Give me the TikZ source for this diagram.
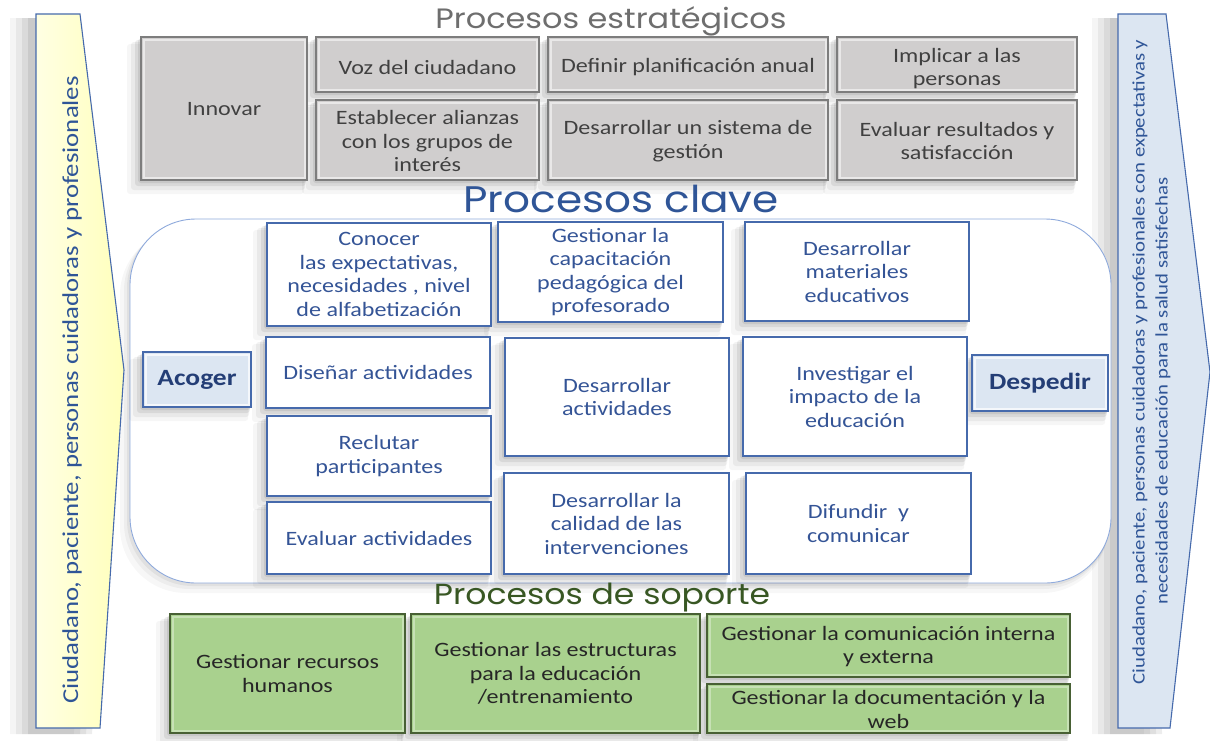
\documentclass[tikz,border=0pt]{standalone}
\usepackage{fontspec}
\setmainfont{Carlito}[FakeStretch=1.18]
\newfontfamily\handfont{Poppins}[FakeStretch=1.14]
\usetikzlibrary{calc}
\definecolor{grayfill}{RGB}{208,206,206}
\definecolor{grayline}{RGB}{125,125,125}
\definecolor{graytext}{RGB}{64,64,64}
\definecolor{keyline}{RGB}{70,106,172}
\definecolor{keytext}{RGB}{52,84,150}
\definecolor{darkblue}{RGB}{36,62,118}
\definecolor{paleblue}{RGB}{220,230,242}
\definecolor{greenfill}{RGB}{169,209,142}
\definecolor{greenline}{RGB}{72,96,52}
\definecolor{palyellow}{RGB}{255,255,208}
\definecolor{regionline}{RGB}{143,170,220}
\definecolor{titlegray}{RGB}{110,110,110}
\definecolor{titleblue}{RGB}{47,85,151}
\definecolor{titlegreen}{RGB}{56,87,35}
\pgfdeclarelayer{back}
\pgfdeclarelayer{shad}
\pgfsetlayers{back,shad,main}
\newcommand\bxshadow[4]{%
  \begin{pgfonlayer}{shad}
  \foreach \d/\o in {14/.035,10/.05,6/.07,3/.08}{%
    \fill[black,opacity=\o,rounded corners=3] (#1-\d,#2+\d*0.5) rectangle (#3-\d*0.2,#4+\d);}
  \end{pgfonlayer}}
% \boxnode[text shift]{name}{kind}{x1}{y1}{x2}{y2}{text}
\newcommand\boxnode[8][0]{%
  \pgfmathsetmacro\bxcx{(#4+#6)/2}%
  \pgfmathsetmacro\bxcy{(#5+#7)/2+#1}%
  \pgfmathsetmacro\bxw{#6-#4}%
  \pgfmathsetmacro\bxh{#7-#5}%
  \bxshadow{#4}{#5}{#6}{#7}%
  \node[#3box, minimum width=\bxw pt, minimum height=\bxh pt] (#2) at ({(#4+#6)/2},{(#5+#7)/2}) {};
  \node[#3text] (#2-t) at (\bxcx,\bxcy) {#8};}
\begin{document}
\begin{tikzpicture}[x=1pt,y=-1pt,
  basebox/.style={draw, inner sep=0pt, outer sep=0pt},
  basetext/.style={align=center, inner sep=0pt, font=\fontsize{20.4}{23.5}\selectfont},
  bevel/.style={path picture={\draw[white,opacity=#1,line width=2pt]
      ([shift={(2.5pt,-2.5pt)}]path picture bounding box.north west) rectangle
      ([shift={(-2.5pt,2.5pt)}]path picture bounding box.south east);}},
  stratbox/.style={basebox, fill=grayfill, draw=grayline, line width=1.1pt, bevel=.55},
  strattext/.style={basetext, text=graytext},
  keybox/.style={basebox, fill=white, draw=keyline, line width=1.2pt},
  keytext/.style={basetext, text=keytext},
  endbox/.style={basebox, fill=paleblue, draw=keyline, line width=1.2pt, bevel=.7},
  endtext/.style={basetext, text=darkblue, font=\fontsize{23.3}{26}\selectfont\bfseries},
  supbox/.style={basebox, fill=greenfill, draw=greenline, line width=1.1pt, bevel=.35},
  suptext/.style={basetext, text=black!85},
  title/.style={font=\handfont\fontsize{28}{30}\selectfont, inner sep=0pt}
]
\useasboundingbox (0,0) rectangle (1210,740);

% ---- background, shadows, key region (back layer) ----
\begin{pgfonlayer}{back}
  \fill[white] (0,0) rectangle (1210,740);
  \foreach \d/\o in {26/.04,20/.05,14/.06,8/.07}{%
    \fill[black,opacity=\o] (36-\d,18) -- (80-\d,18) -- (124-\d,372) -- (100-\d,734) -- (36-\d,734) -- cycle;
    \fill[black,opacity=\o] (1118-\d,18) -- (1166-\d,18) -- (1170-\d,734) -- (1118-\d,734) -- cycle;}
  \foreach \d/\o in {10/.03,6/.04,3/.05}{%
    \fill[black,opacity=\o,rounded corners=66] (130-\d,219+\d) rectangle (1111-\d*0.3,583+\d);}
  \draw[regionline, line width=0.9pt, fill=white, rounded corners=66] (130,219) coordinate (regnw) rectangle (1111,583) coordinate (regse);
\end{pgfonlayer}

% ---- side arrows ----
\draw[draw=keyline, line width=1.1pt, left color=palyellow!60!white, right color=palyellow!90!yellow]
  (36,14) coordinate (la1) -- (80,14) -- (124,370) coordinate (latip) -- (100,728) -- (36,728) -- cycle;
\draw[draw=keyline, line width=1.1pt, fill=paleblue]
  (1118,14) coordinate (ra1) -- (1166,14) -- (1210,372) coordinate (ratip) -- (1170,728) -- (1118,728) -- cycle;

\node[rotate=90, text=titleblue, font=\fontsize{22.7}{26}\selectfont, inner sep=0pt] (ltext) at (72,390)
  {Ciudadano, paciente, personas cuidadoras y profesionales};
\node[rotate=90, text=titleblue, font=\fontsize{17.6}{22}\selectfont, inner sep=0pt] (rtext1) at (1140,362)
  {Ciudadano, paciente, personas cuidadoras y profesionales con expectativas y};
\node[rotate=90, text=titleblue, font=\fontsize{17.6}{22}\selectfont, inner sep=0pt] (rtext2) at (1163,391)
  {necesidades de educación para la salud satisfechas};

% ---- titles ----
\node[title, text=titlegray] (t1) at (611,21) {Procesos estratégicos};
\node[title, text=titleblue, font=\handfont\fontsize{37}{40}\selectfont] (t2) at (621,199) {Procesos clave};
\node[title, text=titlegreen, font=\handfont\fontsize{29}{30}\selectfont] (t3) at (602,598) {Procesos de soporte};

% ---- strategic ----
\boxnode[1]{innov}{strat}{141}{37}{307}{180}{Innovar}
\boxnode[3]{voz}{strat}{316}{37}{539}{92}{Voz del ciudadano}
\boxnode[3]{defin}{strat}{548}{37}{828}{92}{Definir planificación anual}
\boxnode[4]{impl}{strat}{837}{37}{1077}{92}{Implicar a las\\personas}
\boxnode[1]{estab}{strat}{316}{100}{539}{180}{Establecer alianzas\\con los grupos de\\interés}
\boxnode[1]{desis}{strat}{548}{100}{828}{180}{Desarrollar un sistema de\\gestión}
\boxnode[1]{evres}{strat}{837}{100}{1077}{180}{Evaluar resultados y\\satisfacción}

% ---- key ----
\boxnode{acoger}{end}{143}{352}{251}{407}{Acoger}
\boxnode{despedir}{end}{972}{355}{1108}{411}{Despedir}
\boxnode{conoc}{key}{267}{223}{491}{326}{Conocer\\las expectativas,\\necesidades , nivel\\de alfabetización}
\boxnode{disen}{key}{266}{337}{490}{408}{Diseñar actividades}
\boxnode{reclu}{key}{267}{416}{491}{496}{Reclutar\\participantes}
\boxnode{evact}{key}{267}{502}{491}{574}{Evaluar actividades}
\boxnode{gcap}{key}{498}{222}{723}{322}{Gestionar la\\capacitación\\pedagógica del\\profesorado}
\boxnode{dact}{key}{505}{338}{729}{456}{Desarrollar\\actividades}
\boxnode{dcal}{key}{504}{473}{729}{574}{Desarrollar la\\calidad de las\\intervenciones}
\boxnode{dmat}{key}{745}{222}{969}{321}{Desarrollar\\materiales\\educativos}
\boxnode{inves}{key}{743}{337}{967}{456}{Investigar el\\impacto de la\\educación}
\boxnode{difun}{key}{746}{473}{971}{574}{Difundir~ y\\comunicar}

% ---- support ----
\boxnode{grh}{sup}{170}{614}{405}{733}{Gestionar recursos\\humanos}
\boxnode{gest}{sup}{411}{614}{700}{733}{Gestionar las estructuras\\para la educación\\/entrenamiento}
\boxnode[1]{gcom}{sup}{707}{614}{1070}{677}{Gestionar la comunicación interna\\y externa}
\boxnode[1]{gdoc}{sup}{707}{684}{1070}{733}{Gestionar la documentación y la\\web}
\end{tikzpicture}
\end{document}
